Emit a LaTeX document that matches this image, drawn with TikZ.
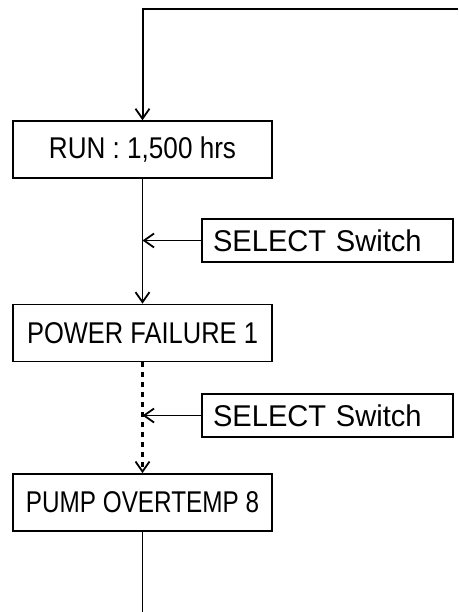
\documentclass[tikz,border=0pt]{standalone}
\usepackage{graphicx}
\usepackage{fontspec}
\setmainfont{Liberation Sans}
\usetikzlibrary{arrows.meta, positioning}

\begin{document}
\begin{tikzpicture}[x=1pt, y=-1pt,
  box/.style={draw, line width=1.4pt, minimum width=259pt, minimum height=57pt, inner sep=0pt, font=\fontsize{30}{35}\selectfont},
  selbox/.style={draw, line width=1.4pt, minimum height=43pt, text width=229pt, inner xsep=11pt, inner ysep=0pt, align=left, font=\fontsize{30}{35}\selectfont},
  arr/.style={-{Straight Barb[length=10pt, width=14pt, line width=1.8pt]}, line width=1.8pt},
  dots/.style={dash pattern=on 5pt off 5pt, line width=3pt}
]
  \useasboundingbox (0,0) rectangle (458,612);
  \coordinate (loopin) at (458,9);
  \coordinate (loopout) at (142.5,612);

  \node[box] (run) at (142.5,149.5) {\scalebox{0.87}[1]{RUN : 1,500 hrs}};
  \node[box, below=125pt of run] (fail) {\scalebox{0.85}[1]{POWER FAILURE 1}};
  \node[box, below=111pt of fail] (pump) {\scalebox{0.81}[1]{PUMP OVERTEMP 8}};
  \node[selbox] (sel1) at (327.5,240.5) {\scalebox{0.97}[1]{SELECT Switch}};
  \node[selbox] (sel2) at (327.5,415.5) {\scalebox{0.97}[1]{SELECT Switch}};

  \draw[arr, line width=2pt] (loopin) -| (run);
  \draw[arr] (run) -- (fail);
  \draw[arr] (sel1) -- (sel1 -| run);
  \draw[arr, dots] (fail) -- (pump);
  \draw[arr] (sel2) -- (sel2 -| fail);
  \draw[line width=1.8pt] (pump) -- (loopout);
\end{tikzpicture}
\end{document}
